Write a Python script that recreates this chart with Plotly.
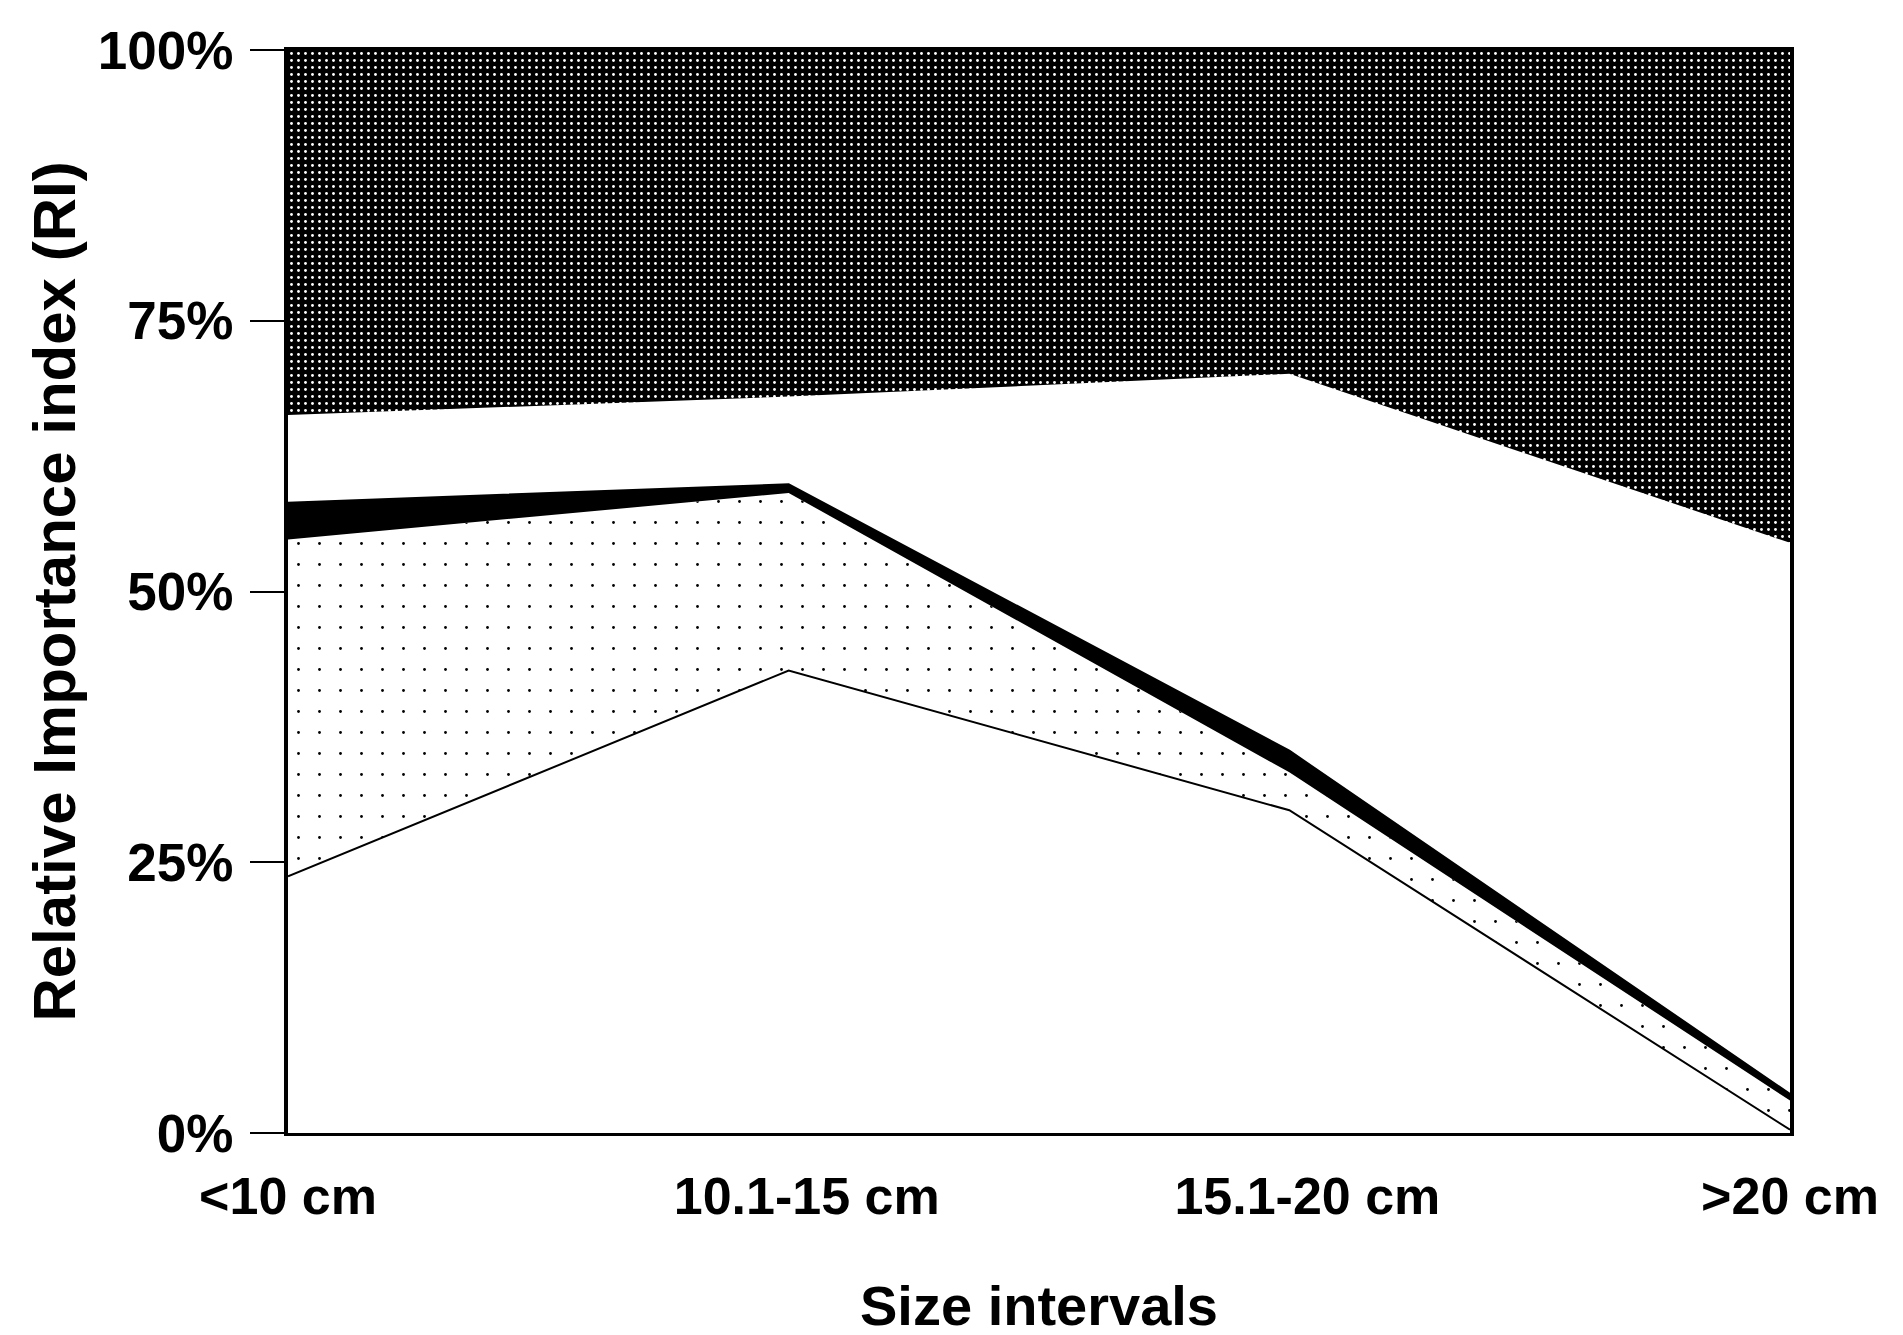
import plotly.graph_objects as go

# Size interval categories (x axis)
categories = ["<10 cm", "10.1-15 cm", "15.1-20 cm", ">20 cm"]
x_pos = [0, 1, 2, 3]

# Stacked layer thicknesses (% of Relative Importance index), bottom to top
layer_white_bottom = [23.7, 42.7, 29.8, 0.3]
layer_dotted = [31.1, 16.4, 3.5, 2.7]
layer_black_band = [3.4, 0.8, 2.0, 0.6]
layer_white_mid = [8.1, 8.1, 34.8, 50.9]
layer_dark_top = [33.7, 32.0, 29.9, 45.5]

y_tickvals = [0, 25, 50, 75, 100]
y_ticktext = ["0%", "25%", "50%", "75%", "100%"]

# small horizontal nudge of the two middle category labels (as in the original print)
label_nudge = [0, 0.036, 0.036, 0]

FONT = "Liberation Sans, Arial, Helvetica, sans-serif"

fig = go.Figure()

fig.add_trace(go.Scatter(
    x=x_pos, y=layer_white_bottom, stackgroup="s", mode="lines",
    line=dict(color="black", width=2), fillcolor="white",
))
fig.add_trace(go.Scatter(
    x=x_pos, y=layer_dotted, stackgroup="s", mode="lines",
    line=dict(color="rgba(0,0,0,0)", width=0),
    fillcolor="white",
    fillpattern=dict(shape=".", fgcolor="black", bgcolor="white",
                     size=21, solidity=0.014, fillmode="replace"),
))
fig.add_trace(go.Scatter(
    x=x_pos, y=layer_black_band, stackgroup="s", mode="lines",
    line=dict(color="black", width=2), fillcolor="black",
))
fig.add_trace(go.Scatter(
    x=x_pos, y=layer_white_mid, stackgroup="s", mode="lines",
    line=dict(color="rgba(0,0,0,0)", width=0), fillcolor="white",
))
fig.add_trace(go.Scatter(
    x=x_pos, y=layer_dark_top, stackgroup="s", mode="lines",
    line=dict(color="rgba(0,0,0,0)", width=0),
    fillcolor="black",
    fillpattern=dict(shape=".", fgcolor="white", bgcolor="black",
                     size=7, solidity=0.13, fillmode="replace"),
))

fig.update_layout(
    width=1903, height=1335,
    margin=dict(l=280, r=121, t=42, b=210),
    paper_bgcolor="white", plot_bgcolor="white",
    showlegend=False,
    font=dict(family=FONT, color="black", size=52, weight="bold"),
    xaxis=dict(
        range=[0, 3],
        tickvals=[p + n for p, n in zip(x_pos, label_nudge)],
        ticktext=categories,
        showgrid=False, zeroline=False,
        showline=True, linecolor="black", linewidth=3, mirror=True,
        ticks="", ticklabelstandoff=16,
        tickfont=dict(family=FONT, size=52, weight="bold"),
        title=dict(text="Size intervals", standoff=62,
                   font=dict(family=FONT, size=56, weight="bold")),
    ),
    yaxis=dict(
        range=[0, 100], tickvals=y_tickvals, ticktext=y_ticktext,
        showgrid=False, zeroline=False,
        showline=True, linecolor="black", linewidth=4, mirror=True,
        ticks="outside", ticklen=34, tickwidth=2, tickcolor="black",
        ticklabelstandoff=6,
        tickfont=dict(family=FONT, size=53, weight="bold"),
        title=dict(text="Relative Importance index (RI)", standoff=4,
                   font=dict(family=FONT, size=60, weight="bold")),
    ),
)

fig.write_html("out.html")
